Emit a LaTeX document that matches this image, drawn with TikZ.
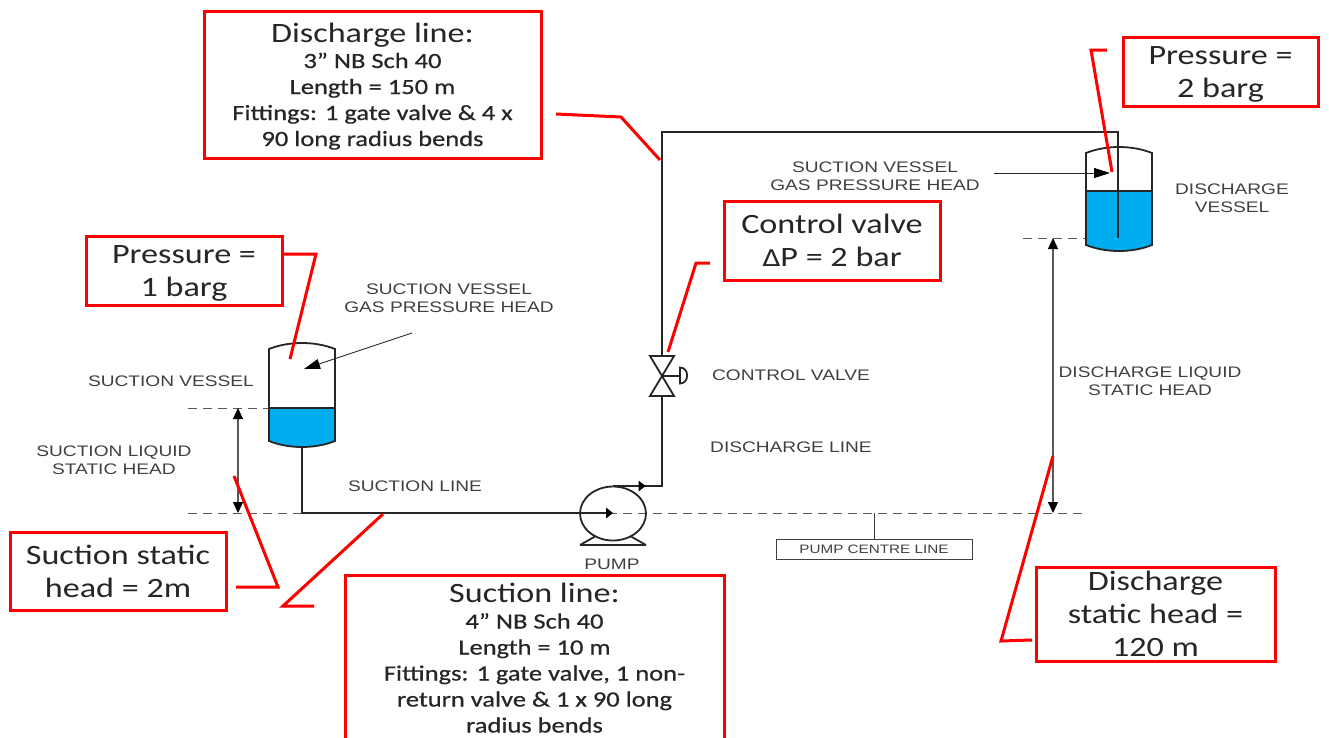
\documentclass[tikz,border=0pt]{standalone}
\usepackage{fontspec}
\setmainfont[FakeStretch=1.22]{Carlito}
\newfontfamily\lab[FakeStretch=1.25]{Liberation Sans}
\newfontfamily\sym[FakeStretch=1.15]{DejaVu Sans}
\newfontfamily\midf[FakeStretch=1.22,FakeBold=0.6]{Carlito}
\usetikzlibrary{arrows.meta,shapes.geometric}
\definecolor{liq}{HTML}{00AEEF}
\definecolor{labc}{HTML}{404040}
\newcommand{\bigt}{\fontsize{28}{33}\selectfont\rule[-7pt]{0pt}{33pt}}
\newcommand{\midt}{\midf\fontsize{21.7}{26}\selectfont\rule[-7pt]{0pt}{26pt}}
\tikzset{
 x=1pt,y=-1pt,
 pipe/.style={draw=black!85,line width=1.8pt},
 dimline/.style={draw=black!65,line width=1.2pt,{Triangle[length=11pt,width=10pt,black]}-{Triangle[length=11pt,width=10pt,black]}},
 leadline/.style={draw=black!85,line width=.9pt,-{Triangle[length=16pt,width=10pt,black]}},
 dashline/.style={draw=black!65,line width=.9pt,dash pattern=on 9pt off 6pt},
 redline/.style={draw=red,line width=3pt,line join=miter},
 redbox/.style={draw=red,line width=3pt,fill=white,align=center,inner sep=0pt,text=black!85,
   execute at begin node={\lineskip=0pt\baselineskip=0pt\lineskiplimit=0pt}},
 boxtext/.style={align=center,inner sep=0pt,text=black!85,
   execute at begin node={\lineskip=0pt\baselineskip=0pt\lineskiplimit=0pt}},
 lbl/.style={font=\lab\fontsize{15.3}{18}\selectfont,text=labc,align=center,inner sep=0pt},
}
\newcommand{\vessel}[5]{%
 \path[fill=white] (#1,#3) .. controls (#1+20,#3-8) and (#2-20,#3-8) .. (#2,#3) -- (#2,#5) -- (#1,#5) -- cycle;
 \path[fill=liq] (#1,#4) -- (#2,#4) -- (#2,#5) .. controls (#2-20,#5+8) and (#1+20,#5+8) .. (#1,#5) -- cycle;
 \draw[pipe] (#1,#3) .. controls (#1+20,#3-8) and (#2-20,#3-8) .. (#2,#3) -- (#2,#5) .. controls (#2-20,#5+8) and (#1+20,#5+8) .. (#1,#5) -- cycle;
 \draw[pipe] (#1,#4) -- (#2,#4);
}
\begin{document}
\begin{tikzpicture}
\useasboundingbox (0,0) rectangle (1329,737);
\fill[white] (0,0) rectangle (1329,737);
% dashed lines
\draw[dashline] (188,408) -- (269,408);
\draw[dashline] (188,513) -- (1083,513);
\draw[dashline] (1023,238) -- (1086,238);
% vessels
\vessel{269}{335}{349}{408}{441}
\vessel{1086}{1152}{153}{191}{245}
% suction pipe and pump
\coordinate (sv) at (302,447);
\coordinate (elbowA) at (302,513);
\coordinate (pumpc) at (613,513.5);
\draw[pipe] (sv) -- (elbowA);
\draw[pipe] (580,545) -- (646,545) (580,545) -- (595,536.5) (646,545) -- (631,536.5);
\node[ellipse,draw=black!85,line width=1.8pt,minimum width=66pt,minimum height=54pt,inner sep=0pt] (pump) at (pumpc) {};
\coordinate (pumpend) at (608,513);
\draw[pipe] (elbowA) -- (pumpend);
\fill[black] (606,507.5) -- (613,513) -- (606,518.5) -- cycle;
% discharge pipe
\coordinate (pumptop) at (613,486);
\coordinate (elbowB) at (662,486);
\coordinate (elbowC) at (662,132);
\coordinate (elbowD) at (1118,132);
\coordinate (dip) at (1118,238);
\draw[pipe] (pumptop) -- (elbowB) -- (662,396) (662,356) -- (elbowC) -- (elbowD) -- (dip);
\fill[black] (638.5,480.5) -- (645.5,486) -- (638.5,491.5) -- cycle;
% valve
\draw[pipe,fill=white] (650,356) -- (674,356) -- (650,396) -- (674,396) -- cycle;
\draw[pipe] (662,376) -- (680,376);
\draw[pipe] (680,367.5) .. controls (689.5,367.5) and (689.5,383.5) .. (680,383.5) -- cycle;
% dimension arrows
\coordinate (dimA) at (238,408);
\coordinate (dimB) at (238,513);
\coordinate (dimC) at (1053,238);
\coordinate (dimD) at (1053,513);
\draw[dimline] (dimA) -- (dimB);
\draw[dimline] (dimC) -- (dimD);
% leaders to vessels
\coordinate (leadAa) at (412,333);
\coordinate (leadAb) at (304,369);
\coordinate (leadBa) at (994,173);
\coordinate (leadBb) at (1110,173);
\draw[leadline] (leadAa) -- (leadAb);
\draw[leadline] (leadBa) -- (leadBb);
% pump centre line
\node[draw=black!75,line width=.9pt,minimum width=196pt,minimum height=20pt,inner sep=0pt,font=\lab\fontsize{12.2}{15}\selectfont,text=labc] (pcl) at (874,549) {PUMP CENTRE LINE};
\coordinate (pclt) at (874,513);
\draw[draw=black!75,line width=.9pt] (pclt) -- (pcl.north);
% grey labels
\node[lbl] (t1) at (449,298) {SUCTION VESSEL\\GAS PRESSURE HEAD};
\node[lbl] (t2) at (171,381) {SUCTION VESSEL};
\node[lbl] (t3) at (114,460) {SUCTION LIQUID\\STATIC HEAD};
\node[lbl] (t4) at (415,486) {SUCTION LINE};
\node[lbl] (t5) at (612,564) {PUMP};
\node[lbl] (t6) at (791,375) {CONTROL VALVE};
\node[lbl] (t7) at (791,447) {DISCHARGE LINE};
\node[lbl] (t8) at (1150,381) {DISCHARGE LIQUID\\STATIC HEAD};
\node[lbl] (t9) at (875,176) {SUCTION VESSEL\\GAS PRESSURE HEAD};
\node[lbl] (t10) at (1232,198) {DISCHARGE\\VESSEL};
% red leaders
\coordinate (r1a) at (556,114); \coordinate (r1b) at (621,117); \coordinate (r1c) at (660,160);
\draw[redline] (r1a) -- (r1b) -- (r1c);
\coordinate (r2a) at (1107,50); \coordinate (r2b) at (1091,50); \coordinate (r2c) at (1112,172);
\draw[redline] (r2a) -- (r2b) -- (r2c);
\coordinate (r3a) at (710,263); \coordinate (r3b) at (696,263); \coordinate (r3c) at (668,352);
\draw[redline] (r3a) -- (r3b) -- (r3c);
\coordinate (r4a) at (283,254); \coordinate (r4b) at (316,254); \coordinate (r4c) at (290,359);
\draw[redline] (r4a) -- (r4b) -- (r4c);
\coordinate (r5a) at (236,587); \coordinate (r5b) at (278,587); \coordinate (r5c) at (234,476);
\draw[redline] (r5a) -- (r5b) -- (r5c);
\coordinate (r6a) at (314,606); \coordinate (r6b) at (283,606); \coordinate (r6c) at (383,514);
\draw[redline] (r6a) -- (r6b) -- (r6c);
\coordinate (r7a) at (1032,640); \coordinate (r7b) at (1001,641); \coordinate (r7c) at (1053,456);
\draw[redline] (r7a) -- (r7b) -- (r7c);
% red boxes
\node[redbox,minimum width=337pt,minimum height=147pt] (b1) at (372.5,84.5) {\bigt Discharge line:\\\midt 3” NB Sch 40\\\midt Length = 150 m\\\midt Fittings: 1 gate valve \& 4 x\\\midt 90 long radius bends};
\node[redbox,minimum width=195pt,minimum height=69pt] (b2) at (1220.5,71.5) {\bigt Pressure =\\\bigt 2 barg};
\node[redbox,minimum width=216pt,minimum height=79pt] (b3) at (832,240.5) {\bigt Control valve\\\bigt{\sym\fontsize{23}{33}\selectfont Δ}P = 2 bar};
\node[redbox,minimum width=196pt,minimum height=69pt] (b4) at (184,270.5) {\bigt Pressure =\\\bigt 1 barg};
\node[redbox,minimum width=216pt,minimum height=78pt] (b5) at (118,571) {\bigt Suction static\\\bigt head = 2m};
\node[redbox,minimum width=379pt,minimum height=166pt] (b6) at (534.5,658) {\bigt Suction line:\\\midt 4” NB Sch 40\\\midt Length = 10 m\\\midt Fittings: 1 gate valve, 1 non-\\\midt return valve \& 1 x 90 long\\\midt radius bends};
\node[redbox,minimum width=239pt,minimum height=94pt] (b7) at (1155.5,614) {};
\node[boxtext] (b7t) at (b7.center) {\bigt Discharge\\\bigt static head =\\\bigt 120 m};
\end{tikzpicture}
\end{document}
